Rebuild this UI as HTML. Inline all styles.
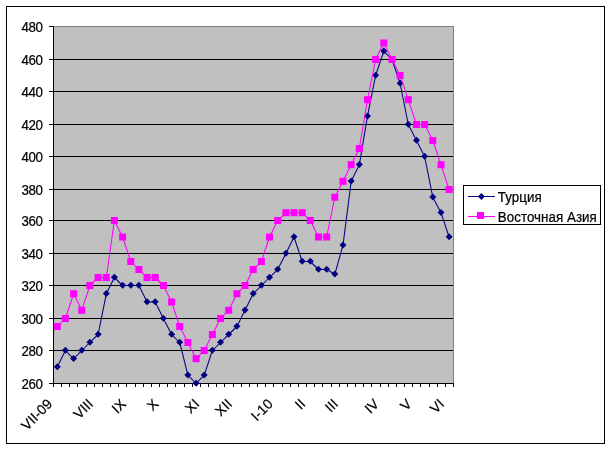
<!DOCTYPE html>
<html lang="ru"><head><meta charset="utf-8"><title>Chart</title>
<style>html,body{margin:0;padding:0;background:#fff}body{width:612px;height:451px;overflow:hidden}svg{display:block}text{filter:grayscale(1);stroke:#000;stroke-width:.22px}.yl text{letter-spacing:-.45px}.xl text{font-size:14px}text.lg{letter-spacing:.05px}text{font-family:"Liberation Sans",Arial,sans-serif;font-size:13.33px;fill:#000}</style>
</head><body>
<svg width="612" height="451" viewBox="0 0 612 451">
<rect x="0" y="0" width="612" height="451" fill="#fff"/>
<rect x="6.5" y="6.5" width="598" height="437" fill="#fff" stroke="#000" stroke-width="1" shape-rendering="crispEdges"/>
<rect x="53.5" y="26.5" width="400" height="357" fill="#c0c0c0" stroke="#808080" stroke-width="1" shape-rendering="crispEdges"/>
<g stroke="#000" stroke-width="1" shape-rendering="crispEdges">
<line x1="54" y1="350.5" x2="453" y2="350.5"/>
<line x1="54" y1="318.5" x2="453" y2="318.5"/>
<line x1="54" y1="285.5" x2="453" y2="285.5"/>
<line x1="54" y1="253.5" x2="453" y2="253.5"/>
<line x1="54" y1="220.5" x2="453" y2="220.5"/>
<line x1="54" y1="189.5" x2="453" y2="189.5"/>
<line x1="54" y1="156.5" x2="453" y2="156.5"/>
<line x1="54" y1="124.5" x2="453" y2="124.5"/>
<line x1="54" y1="91.5" x2="453" y2="91.5"/>
<line x1="54" y1="59.5" x2="453" y2="59.5"/>
<line x1="53.5" y1="26" x2="53.5" y2="387"/>
<line x1="49" y1="383.5" x2="454" y2="383.5"/>
<line x1="49" y1="383.5" x2="54" y2="383.5"/>
<line x1="49" y1="350.5" x2="54" y2="350.5"/>
<line x1="49" y1="318.5" x2="54" y2="318.5"/>
<line x1="49" y1="285.5" x2="54" y2="285.5"/>
<line x1="49" y1="253.5" x2="54" y2="253.5"/>
<line x1="49" y1="220.5" x2="54" y2="220.5"/>
<line x1="49" y1="189.5" x2="54" y2="189.5"/>
<line x1="49" y1="156.5" x2="54" y2="156.5"/>
<line x1="49" y1="124.5" x2="54" y2="124.5"/>
<line x1="49" y1="91.5" x2="54" y2="91.5"/>
<line x1="49" y1="59.5" x2="54" y2="59.5"/>
<line x1="49" y1="26.5" x2="54" y2="26.5"/>
<line x1="53.5" y1="383" x2="53.5" y2="387"/>
<line x1="61.5" y1="383" x2="61.5" y2="387"/>
<line x1="69.5" y1="383" x2="69.5" y2="387"/>
<line x1="77.5" y1="383" x2="77.5" y2="387"/>
<line x1="86.5" y1="383" x2="86.5" y2="387"/>
<line x1="94.5" y1="383" x2="94.5" y2="387"/>
<line x1="102.5" y1="383" x2="102.5" y2="387"/>
<line x1="110.5" y1="383" x2="110.5" y2="387"/>
<line x1="118.5" y1="383" x2="118.5" y2="387"/>
<line x1="126.5" y1="383" x2="126.5" y2="387"/>
<line x1="135.5" y1="383" x2="135.5" y2="387"/>
<line x1="143.5" y1="383" x2="143.5" y2="387"/>
<line x1="151.5" y1="383" x2="151.5" y2="387"/>
<line x1="159.5" y1="383" x2="159.5" y2="387"/>
<line x1="167.5" y1="383" x2="167.5" y2="387"/>
<line x1="175.5" y1="383" x2="175.5" y2="387"/>
<line x1="184.5" y1="383" x2="184.5" y2="387"/>
<line x1="192.5" y1="383" x2="192.5" y2="387"/>
<line x1="200.5" y1="383" x2="200.5" y2="387"/>
<line x1="208.5" y1="383" x2="208.5" y2="387"/>
<line x1="216.5" y1="383" x2="216.5" y2="387"/>
<line x1="224.5" y1="383" x2="224.5" y2="387"/>
<line x1="233.5" y1="383" x2="233.5" y2="387"/>
<line x1="241.5" y1="383" x2="241.5" y2="387"/>
<line x1="249.5" y1="383" x2="249.5" y2="387"/>
<line x1="257.5" y1="383" x2="257.5" y2="387"/>
<line x1="265.5" y1="383" x2="265.5" y2="387"/>
<line x1="273.5" y1="383" x2="273.5" y2="387"/>
<line x1="282.5" y1="383" x2="282.5" y2="387"/>
<line x1="290.5" y1="383" x2="290.5" y2="387"/>
<line x1="298.5" y1="383" x2="298.5" y2="387"/>
<line x1="306.5" y1="383" x2="306.5" y2="387"/>
<line x1="314.5" y1="383" x2="314.5" y2="387"/>
<line x1="322.5" y1="383" x2="322.5" y2="387"/>
<line x1="331.5" y1="383" x2="331.5" y2="387"/>
<line x1="339.5" y1="383" x2="339.5" y2="387"/>
<line x1="347.5" y1="383" x2="347.5" y2="387"/>
<line x1="355.5" y1="383" x2="355.5" y2="387"/>
<line x1="363.5" y1="383" x2="363.5" y2="387"/>
<line x1="371.5" y1="383" x2="371.5" y2="387"/>
<line x1="380.5" y1="383" x2="380.5" y2="387"/>
<line x1="388.5" y1="383" x2="388.5" y2="387"/>
<line x1="396.5" y1="383" x2="396.5" y2="387"/>
<line x1="404.5" y1="383" x2="404.5" y2="387"/>
<line x1="412.5" y1="383" x2="412.5" y2="387"/>
<line x1="420.5" y1="383" x2="420.5" y2="387"/>
<line x1="429.5" y1="383" x2="429.5" y2="387"/>
<line x1="437.5" y1="383" x2="437.5" y2="387"/>
<line x1="445.5" y1="383" x2="445.5" y2="387"/>
<line x1="453.5" y1="383" x2="453.5" y2="387"/>
</g>
<g class="yl" text-anchor="end">
<text transform="translate(42.4 389.0) scale(1 1.070)">260</text>
<text transform="translate(42.4 356.0) scale(1 1.070)">280</text>
<text transform="translate(42.4 324.0) scale(1 1.070)">300</text>
<text transform="translate(42.4 291.0) scale(1 1.070)">320</text>
<text transform="translate(42.4 259.0) scale(1 1.070)">340</text>
<text transform="translate(42.4 226.0) scale(1 1.070)">360</text>
<text transform="translate(42.4 195.0) scale(1 1.070)">380</text>
<text transform="translate(42.4 162.0) scale(1 1.070)">400</text>
<text transform="translate(42.4 130.0) scale(1 1.070)">420</text>
<text transform="translate(42.4 97.0) scale(1 1.070)">440</text>
<text transform="translate(42.4 65.0) scale(1 1.070)">460</text>
<text transform="translate(42.4 32.0) scale(1 1.070)">480</text>
</g>
<g class="xl" text-anchor="end">
<text transform="translate(53.3 404.8) rotate(-45)">VII-09</text>
<text transform="translate(94.1 404.8) rotate(-45)">VIII</text>
<text transform="translate(126.8 404.8) rotate(-45)">IX</text>
<text transform="translate(159.4 404.8) rotate(-45)">X</text>
<text transform="translate(200.2 404.8) rotate(-45)">XI</text>
<text transform="translate(232.9 404.8) rotate(-45)">XII</text>
<text transform="translate(273.7 404.8) rotate(-45)">I-10</text>
<text transform="translate(306.3 404.8) rotate(-45)">II</text>
<text transform="translate(339.0 404.8) rotate(-45)">III</text>
<text transform="translate(379.8 404.8) rotate(-45)">IV</text>
<text transform="translate(412.5 404.8) rotate(-45)">V</text>
<text transform="translate(445.1 404.8) rotate(-45)">VI</text>
</g>
<polyline points="57.3,367.0 65.4,350.5 73.6,358.8 81.8,350.5 89.9,342.5 98.1,334.5 106.3,293.8 114.4,277.5 122.6,285.5 130.8,285.5 138.9,285.5 147.1,302.0 155.2,302.0 163.4,318.5 171.6,334.5 179.7,342.5 187.9,375.2 196.1,383.5 204.2,375.2 212.4,350.5 220.5,342.5 228.7,334.5 236.9,326.5 245.0,310.2 253.2,293.8 261.4,285.5 269.5,277.5 277.7,269.5 285.9,253.5 294.0,237.0 302.2,261.5 310.3,261.5 318.5,269.5 326.7,269.5 334.8,274.3 343.0,245.2 351.2,181.2 359.3,164.8 367.5,116.2 375.6,75.5 383.8,51.2 392.0,59.5 400.1,83.5 408.3,124.5 416.5,140.5 424.6,156.5 432.8,197.2 441.0,212.8 449.1,237.0" fill="none" stroke="#000080" stroke-width="1.05" stroke-linejoin="round"/>
<g fill="#000080">
<path d="M57.3 363.2L60.8 366.8L57.3 370.2L53.8 366.8Z"/>
<path d="M65.4 346.8L68.9 350.2L65.4 353.8L61.9 350.2Z"/>
<path d="M73.6 355.0L77.1 358.5L73.6 362.0L70.1 358.5Z"/>
<path d="M81.8 346.8L85.3 350.2L81.8 353.8L78.3 350.2Z"/>
<path d="M89.9 338.8L93.4 342.2L89.9 345.8L86.4 342.2Z"/>
<path d="M98.1 330.8L101.6 334.2L98.1 337.8L94.6 334.2Z"/>
<path d="M106.3 290.0L109.8 293.5L106.3 297.0L102.8 293.5Z"/>
<path d="M114.4 273.8L117.9 277.2L114.4 280.8L110.9 277.2Z"/>
<path d="M122.6 281.8L126.1 285.2L122.6 288.8L119.1 285.2Z"/>
<path d="M130.8 281.8L134.3 285.2L130.8 288.8L127.3 285.2Z"/>
<path d="M138.9 281.8L142.4 285.2L138.9 288.8L135.4 285.2Z"/>
<path d="M147.1 298.2L150.6 301.8L147.1 305.2L143.6 301.8Z"/>
<path d="M155.2 298.2L158.7 301.8L155.2 305.2L151.7 301.8Z"/>
<path d="M163.4 314.8L166.9 318.2L163.4 321.8L159.9 318.2Z"/>
<path d="M171.6 330.8L175.1 334.2L171.6 337.8L168.1 334.2Z"/>
<path d="M179.7 338.8L183.2 342.2L179.7 345.8L176.2 342.2Z"/>
<path d="M187.9 371.5L191.4 375.0L187.9 378.5L184.4 375.0Z"/>
<path d="M196.1 379.8L199.6 383.2L196.1 386.8L192.6 383.2Z"/>
<path d="M204.2 371.5L207.7 375.0L204.2 378.5L200.7 375.0Z"/>
<path d="M212.4 346.8L215.9 350.2L212.4 353.8L208.9 350.2Z"/>
<path d="M220.5 338.8L224.0 342.2L220.5 345.8L217.0 342.2Z"/>
<path d="M228.7 330.8L232.2 334.2L228.7 337.8L225.2 334.2Z"/>
<path d="M236.9 322.8L240.4 326.2L236.9 329.8L233.4 326.2Z"/>
<path d="M245.0 306.5L248.5 310.0L245.0 313.5L241.5 310.0Z"/>
<path d="M253.2 290.0L256.7 293.5L253.2 297.0L249.7 293.5Z"/>
<path d="M261.4 281.8L264.9 285.2L261.4 288.8L257.9 285.2Z"/>
<path d="M269.5 273.8L273.0 277.2L269.5 280.8L266.0 277.2Z"/>
<path d="M277.7 265.8L281.2 269.2L277.7 272.8L274.2 269.2Z"/>
<path d="M285.9 249.8L289.4 253.2L285.9 256.8L282.4 253.2Z"/>
<path d="M294.0 233.2L297.5 236.8L294.0 240.2L290.5 236.8Z"/>
<path d="M302.2 257.8L305.7 261.2L302.2 264.8L298.7 261.2Z"/>
<path d="M310.3 257.8L313.8 261.2L310.3 264.8L306.8 261.2Z"/>
<path d="M318.5 265.8L322.0 269.2L318.5 272.8L315.0 269.2Z"/>
<path d="M326.7 265.8L330.2 269.2L326.7 272.8L323.2 269.2Z"/>
<path d="M334.8 270.6L338.3 274.1L334.8 277.6L331.3 274.1Z"/>
<path d="M343.0 241.5L346.5 245.0L343.0 248.5L339.5 245.0Z"/>
<path d="M351.2 177.5L354.7 181.0L351.2 184.5L347.7 181.0Z"/>
<path d="M359.3 161.0L362.8 164.5L359.3 168.0L355.8 164.5Z"/>
<path d="M367.5 112.5L371.0 116.0L367.5 119.5L364.0 116.0Z"/>
<path d="M375.6 71.8L379.1 75.2L375.6 78.8L372.1 75.2Z"/>
<path d="M383.8 47.5L387.3 51.0L383.8 54.5L380.3 51.0Z"/>
<path d="M392.0 55.8L395.5 59.2L392.0 62.8L388.5 59.2Z"/>
<path d="M400.1 79.8L403.6 83.2L400.1 86.8L396.6 83.2Z"/>
<path d="M408.3 120.8L411.8 124.2L408.3 127.8L404.8 124.2Z"/>
<path d="M416.5 136.8L420.0 140.2L416.5 143.8L413.0 140.2Z"/>
<path d="M424.6 152.8L428.1 156.2L424.6 159.8L421.1 156.2Z"/>
<path d="M432.8 193.5L436.3 197.0L432.8 200.5L429.3 197.0Z"/>
<path d="M441.0 209.0L444.5 212.5L441.0 216.0L437.5 212.5Z"/>
<path d="M449.1 233.2L452.6 236.8L449.1 240.2L445.6 236.8Z"/>
</g>
<polyline points="57.3,326.5 65.4,318.5 73.6,293.8 81.8,310.2 89.9,285.5 98.1,277.5 106.3,277.5 114.4,220.5 122.6,237.0 130.8,261.5 138.9,269.5 147.1,277.5 155.2,277.5 163.4,285.5 171.6,302.0 179.7,326.5 187.9,342.5 196.1,358.8 204.2,350.5 212.4,334.5 220.5,318.5 228.7,310.2 236.9,293.8 245.0,285.5 253.2,269.5 261.4,261.5 269.5,237.0 277.7,220.5 285.9,212.8 294.0,212.8 302.2,212.8 310.3,220.5 318.5,237.0 326.7,237.0 334.8,197.2 343.0,181.2 351.2,164.8 359.3,148.5 367.5,99.8 375.6,59.5 383.8,43.0 392.0,59.5 400.1,75.5 408.3,99.8 416.5,124.5 424.6,124.5 432.8,140.5 441.0,164.8 449.1,189.5" fill="none" stroke="#ff00ff" stroke-width="1.05" stroke-linejoin="round"/>
<g fill="#ff00ff">
<rect x="53.8" y="323.0" width="7.0" height="7.0"/>
<rect x="61.9" y="315.0" width="7.0" height="7.0"/>
<rect x="70.1" y="290.2" width="7.0" height="7.0"/>
<rect x="78.3" y="306.8" width="7.0" height="7.0"/>
<rect x="86.4" y="282.0" width="7.0" height="7.0"/>
<rect x="94.6" y="274.0" width="7.0" height="7.0"/>
<rect x="102.8" y="274.0" width="7.0" height="7.0"/>
<rect x="110.9" y="217.0" width="7.0" height="7.0"/>
<rect x="119.1" y="233.5" width="7.0" height="7.0"/>
<rect x="127.3" y="258.0" width="7.0" height="7.0"/>
<rect x="135.4" y="266.0" width="7.0" height="7.0"/>
<rect x="143.6" y="274.0" width="7.0" height="7.0"/>
<rect x="151.7" y="274.0" width="7.0" height="7.0"/>
<rect x="159.9" y="282.0" width="7.0" height="7.0"/>
<rect x="168.1" y="298.5" width="7.0" height="7.0"/>
<rect x="176.2" y="323.0" width="7.0" height="7.0"/>
<rect x="184.4" y="339.0" width="7.0" height="7.0"/>
<rect x="192.6" y="355.2" width="7.0" height="7.0"/>
<rect x="200.7" y="347.0" width="7.0" height="7.0"/>
<rect x="208.9" y="331.0" width="7.0" height="7.0"/>
<rect x="217.0" y="315.0" width="7.0" height="7.0"/>
<rect x="225.2" y="306.8" width="7.0" height="7.0"/>
<rect x="233.4" y="290.2" width="7.0" height="7.0"/>
<rect x="241.5" y="282.0" width="7.0" height="7.0"/>
<rect x="249.7" y="266.0" width="7.0" height="7.0"/>
<rect x="257.9" y="258.0" width="7.0" height="7.0"/>
<rect x="266.0" y="233.5" width="7.0" height="7.0"/>
<rect x="274.2" y="217.0" width="7.0" height="7.0"/>
<rect x="282.4" y="209.2" width="7.0" height="7.0"/>
<rect x="290.5" y="209.2" width="7.0" height="7.0"/>
<rect x="298.7" y="209.2" width="7.0" height="7.0"/>
<rect x="306.8" y="217.0" width="7.0" height="7.0"/>
<rect x="315.0" y="233.5" width="7.0" height="7.0"/>
<rect x="323.2" y="233.5" width="7.0" height="7.0"/>
<rect x="331.3" y="193.8" width="7.0" height="7.0"/>
<rect x="339.5" y="177.8" width="7.0" height="7.0"/>
<rect x="347.7" y="161.2" width="7.0" height="7.0"/>
<rect x="355.8" y="145.0" width="7.0" height="7.0"/>
<rect x="364.0" y="96.2" width="7.0" height="7.0"/>
<rect x="372.1" y="56.0" width="7.0" height="7.0"/>
<rect x="380.3" y="39.5" width="7.0" height="7.0"/>
<rect x="388.5" y="56.0" width="7.0" height="7.0"/>
<rect x="396.6" y="72.0" width="7.0" height="7.0"/>
<rect x="404.8" y="96.2" width="7.0" height="7.0"/>
<rect x="413.0" y="121.0" width="7.0" height="7.0"/>
<rect x="421.1" y="121.0" width="7.0" height="7.0"/>
<rect x="429.3" y="137.0" width="7.0" height="7.0"/>
<rect x="437.5" y="161.2" width="7.0" height="7.0"/>
<rect x="445.6" y="186.0" width="7.0" height="7.0"/>
</g>
<rect x="463.5" y="185.5" width="137" height="39" fill="#fff" stroke="#000" stroke-width="1" shape-rendering="crispEdges"/>
<line x1="468" y1="196.5" x2="495" y2="196.5" stroke="#000080" stroke-width="1" shape-rendering="crispEdges"/>
<path fill="#000080" d="M481.4 193.1L484.8 196.5L481.4 199.9L478.0 196.5Z"/>
<line x1="468" y1="216.5" x2="495" y2="216.5" stroke="#ff00ff" stroke-width="1" shape-rendering="crispEdges"/>
<rect fill="#ff00ff" x="477" y="212" width="7" height="7"/>
<text class="lg" transform="translate(497.8 202.0) scale(1 1.070)">Турция</text>
<text class="lg" transform="translate(497.8 222.0) scale(1 1.070)">Восточная Азия</text>
</svg>
</body></html>
